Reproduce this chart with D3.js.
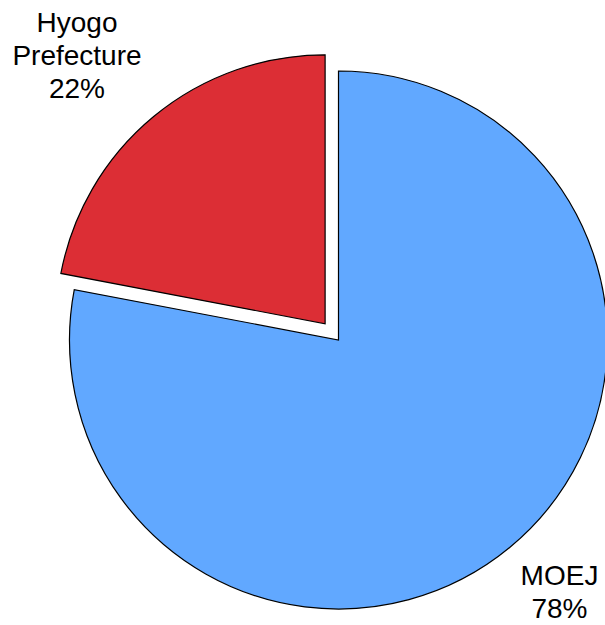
<!DOCTYPE html>
<html>
<head>
<meta charset="utf-8">
<script src="https://cdn.jsdelivr.net/npm/d3@7"></script>
<style>
  body { margin: 0; background: #fff; }
  text { font-family: "Liberation Sans", Arial, sans-serif; font-size: 28px; fill: #000; }
</style>
</head>
<body>
<script>
// data
const categories = ["MOEJ", "Hyogo Prefecture"];
const values = [78, 22];
const labelLines = [["MOEJ", "78%"], ["Hyogo", "Prefecture", "22%"]];
const colors = ["#61a8ff", "#dc2e35"];
const explode = [0, 21];

const WIDTH = 605, HEIGHT = 625;
const cx = 338.5, cy = 340, R = 269;

// label placement (layout), x = centre of text, y = first baseline
const labelPos = [[559.5, 585], [77, 32]];
const lineH = 33;

const svg = d3.select("body").append("svg")
  .attr("width", WIDTH).attr("height", HEIGHT);

const pie = d3.pie().sort(null).value(d => d)(values);
const arc = d3.arc().innerRadius(0).outerRadius(R);

const g = svg.append("g").attr("transform", `translate(${cx},${cy})`);

g.selectAll("path")
  .data(pie)
  .enter()
  .append("path")
  .attr("d", arc)
  .attr("fill", (d, i) => colors[i])
  .attr("stroke", "#000")
  .attr("stroke-width", 1.2)
  .attr("stroke-linejoin", "miter")
  .attr("transform", (d, i) => {
    const a = (d.startAngle + d.endAngle) / 2;
    return `translate(${Math.sin(a) * explode[i]},${-Math.cos(a) * explode[i]})`;
  });

labelLines.forEach((lines, i) => {
  const t = svg.append("text")
    .attr("text-anchor", "middle");
  lines.forEach((ln, j) => {
    t.append("tspan")
      .attr("x", labelPos[i][0])
      .attr("y", labelPos[i][1] + j * lineH)
      .text(ln);
  });
});
</script>
</body>
</html>
